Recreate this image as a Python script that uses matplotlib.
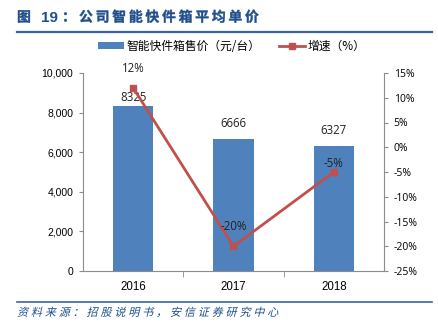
import matplotlib
matplotlib.use("Agg")
import matplotlib.pyplot as plt
from matplotlib.patches import PathPatch, Patch
from matplotlib.lines import Line2D
from matplotlib.textpath import TextPath
from matplotlib.font_manager import FontProperties
from matplotlib.transforms import Affine2D
from matplotlib.ticker import FuncFormatter, FixedLocator

plt.rcParams['font.family'] = ['Liberation Sans', 'Noto Sans CJK SC', 'DejaVu Sans']

years = ["2016", "2017", "2018"]
prices = [8325, 6666, 6327]
growth = [12, -20, -5]
growth_labels = ["12%", "-20%", "-5%"]
bar_name = "智能快件箱售价（元/台）"
line_name = "增速（%）"
title_fig = "图"
title_num = "19"
title_colon = "："
title_body = "公司智能快件箱平均单价"
source = "资料来源：招股说明书，安信证券研究中心"

BLUE = "#4F81BD"
RED = "#C0504D"
NAVY = "#1F4E8C"
GRAY = "#8C8C8C"

W, H = 439, 334
fig = plt.figure(figsize=(W/100, H/100), dpi=100)

def fx(px):
    return px / W
def fy(py):
    return 1 - py / H

ax = fig.add_axes([fx(83), fy(271), fx(384) - fx(83), fy(73) - fy(271)])
x = list(range(len(years)))
ax.bar(x, prices, width=0.4, color=BLUE, zorder=2)
ax.set_xlim(-0.5, 2.5)
ax.set_ylim(0, 10000)
ax.set_yticks(range(0, 10001, 2000))
ax.yaxis.set_major_formatter(FuncFormatter(lambda v, p: f"{int(v):,}"))
ax.set_xticks(x)
ax.set_xticklabels(years, fontsize=8.3)
ax.xaxis.set_minor_locator(FixedLocator([0.5, 1.5]))
ax.tick_params(axis='x', which='major', length=0, pad=7)
ax.tick_params(axis='x', which='minor', length=4, color=GRAY, direction='out')
ax.tick_params(axis='y', length=3, color=GRAY, labelsize=7.5, direction='out', pad=4)
for s in ['top', 'right']:
    ax.spines[s].set_visible(False)
for s in ['left', 'bottom']:
    ax.spines[s].set_color(GRAY)
    ax.spines[s].set_linewidth(0.8)

bar_offsets = [6.5, 11.5, 11]
for xi, v, off in zip(x, prices, bar_offsets):
    ax.annotate(str(v), (xi, v), xytext=(0, off), textcoords='offset points',
                ha='center', va='center', fontsize=8.3, color='#222222',
                family=['Open Sans', 'DejaVu Sans'])

ax2 = ax.twinx()
ax2.set_ylim(-25, 15)
ax2.set_yticks(range(-25, 16, 5))
ax2.yaxis.set_major_formatter(FuncFormatter(lambda v, p: f"{int(v)}%"))
ax2.tick_params(axis='y', length=3, color=GRAY, labelsize=7.5, direction='out', pad=4)
for lab in ax2.get_yticklabels():
    lab.set_family(['Open Sans', 'DejaVu Sans'])
for s in ['top', 'left', 'bottom']:
    ax2.spines[s].set_visible(False)
ax2.spines['right'].set_color(GRAY)
ax2.spines['right'].set_linewidth(0.8)
ax2.plot(x, growth, color=RED, lw=2, marker='s', ms=5, zorder=3)
offsets = [14, 14, 6]
for xi, v, lab, off in zip(x, growth, growth_labels, offsets):
    ax2.annotate(lab, (xi, v), xytext=(0, off), textcoords='offset points',
                 ha='center', va='center', fontsize=8.3, color='#222222',
                 family=['Open Sans', 'DejaVu Sans'])

# legend
handles = [Patch(facecolor=BLUE, label=bar_name),
           Line2D([0], [0], color=RED, lw=2, marker='s', ms=4, label=line_name)]
fig.legend(handles=handles, loc='center', bbox_to_anchor=(fx(232), fy(46)), ncol=2,
           frameon=False, prop=FontProperties(family=['Noto Sans CJK SC'], size=8.5),
           handlelength=2.2, handleheight=0.5, columnspacing=1.6, handletextpad=0.2)

def draw_chars(text, x0, baseline, size_pt, pitch, color, skew=0.0, weight='normal'):
    fp = FontProperties(family='Noto Sans CJK SC', size=size_pt, weight=weight)
    xc = x0
    for ch in text:
        tp = TextPath((0, 0), ch, prop=fp)
        tr = (Affine2D().skew_deg(skew, 0).scale(100/72)
              .translate(xc, H - baseline))
        fig.add_artist(PathPatch(tp, transform=tr, facecolor=color,
                                 edgecolor=color, lw=0.3 if weight == 'bold' else 0))
        xc += pitch

# title
draw_chars(title_fig, 17, 21.5, 10, 16.6, NAVY, weight='bold')
fig.text(fx(41), fy(21.5), title_num, fontsize=11, fontweight='bold', color=NAVY,
         ha='left', va='baseline', family=['Liberation Sans'])
draw_chars(title_colon, 62, 21.5, 10, 16.6, NAVY, weight='bold')
draw_chars(title_body, 79, 21.5, 10, 16.6, NAVY, weight='bold')
fig.add_artist(Line2D([fx(17), fx(432)], [fy(31.5), fy(31.5)], color="#3A64A8", lw=1.6))
fig.add_artist(Line2D([fx(17), fx(432)], [fy(302), fy(302)], color="#3A64A8", lw=1.2))

# italic source text
draw_chars(source, 17, 316, 8, 13.9, NAVY, skew=14)

fig.savefig("out.png", dpi=100)
